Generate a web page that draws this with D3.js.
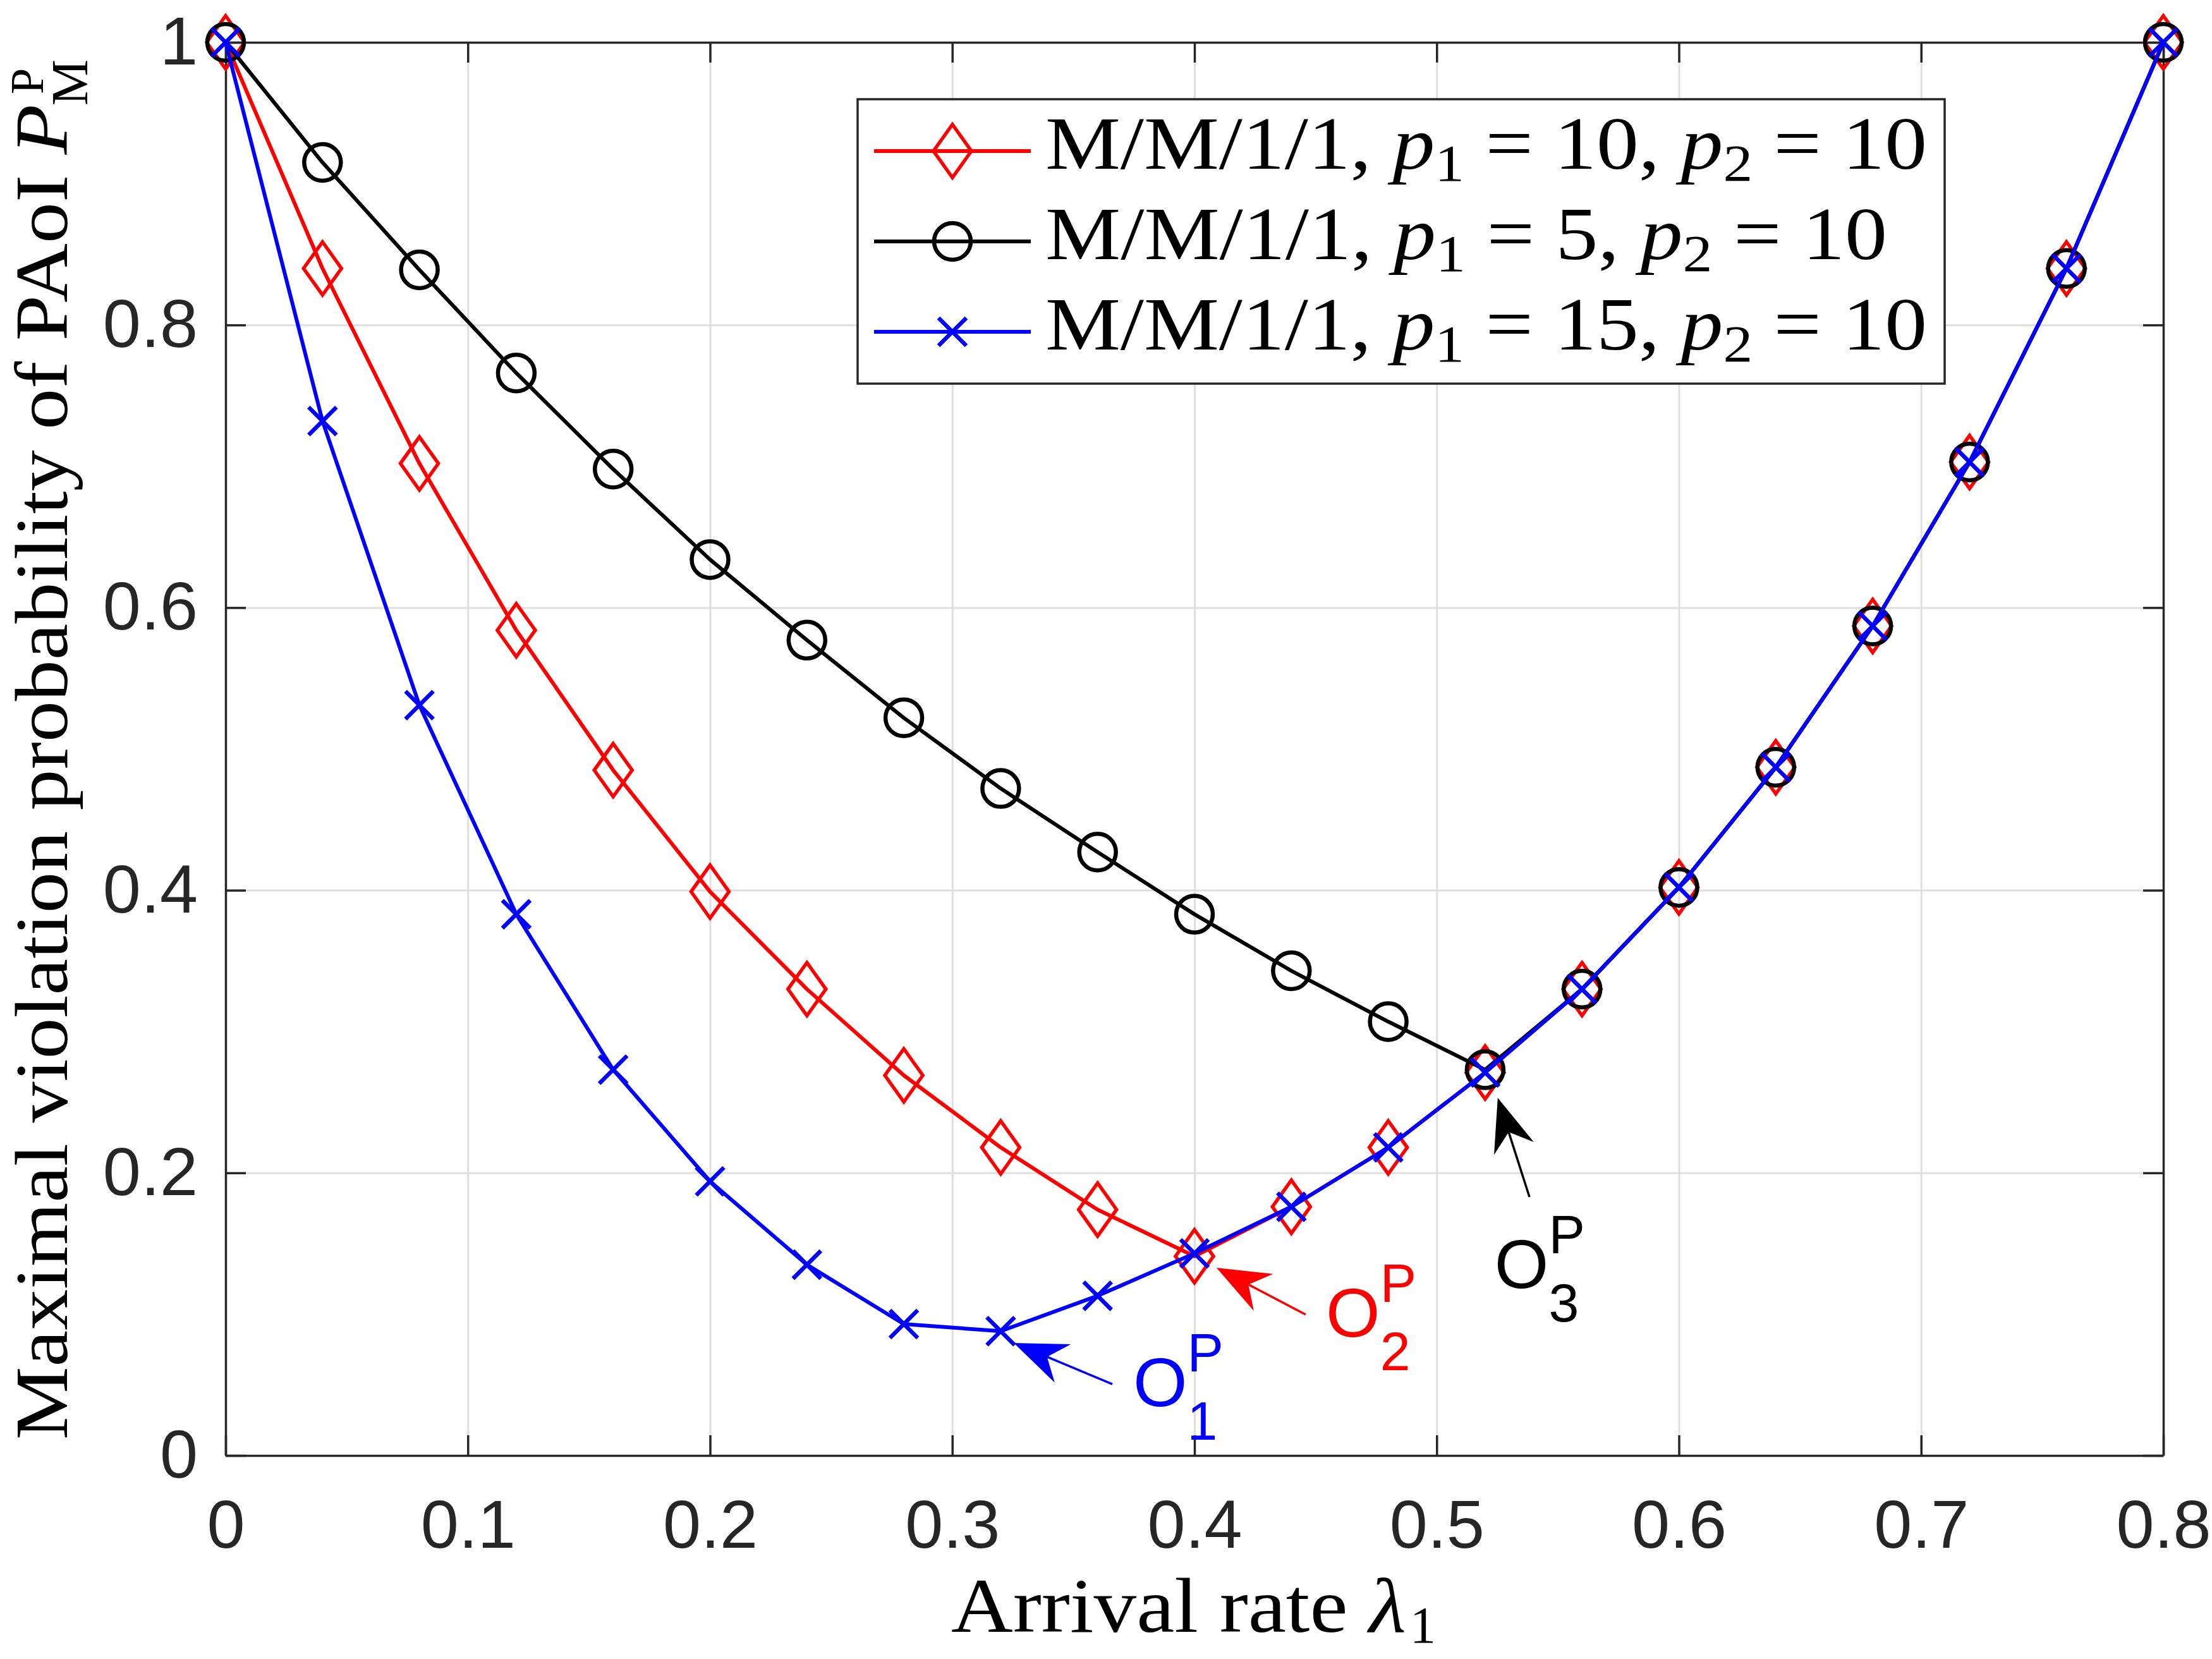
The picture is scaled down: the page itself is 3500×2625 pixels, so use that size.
<!DOCTYPE html>
<html><head><meta charset="utf-8">
<script src="https://cdn.jsdelivr.net/npm/d3@7"></script>
<style>body{margin:0;background:#fff}</style>
</head><body><svg id="c" width="3500" height="2625" xmlns="http://www.w3.org/2000/svg"></svg>
<script>
// ---------------- data ----------------
const lambdaVals = [0,0.04,0.08,0.12,0.16,0.20,0.24,0.28,0.32,0.36,0.40,0.44,0.48,0.52,0.56,0.60,0.64,0.68,0.72,0.76,0.80];
const pP10 = [1.000,0.840,0.702,0.584,0.485,0.399,0.330,0.269,0.218,0.174,0.141,0.176,0.218,0.271,0.330,0.402,0.487,0.587,0.703,0.840,1.000];
const pP5  = [1.000,0.915,0.839,0.766,0.698,0.634,0.577,0.522,0.472,0.427,0.383,0.343,0.307,0.273,0.330,0.402,0.487,0.587,0.703,0.840,1.000];
const pP15 = [1.000,0.732,0.531,0.383,0.273,0.194,0.135,0.093,0.088,0.113,0.143,0.176,0.218,0.271,0.330,0.402,0.487,0.587,0.703,0.840,1.000];
const xTicks = [0,0.1,0.2,0.3,0.4,0.5,0.6,0.7,0.8];
const yTicks = [0,0.2,0.4,0.6,0.8,1];
const xTickLabels = ["0","0.1","0.2","0.3","0.4","0.5","0.6","0.7","0.8"];
const yTickLabels = ["0","0.2","0.4","0.6","0.8","1"];
const legendP1 = ["10","5","15"];
const legendP2 = ["10","10","10"];
const seriesColors = ["#ff0000","#000000","#0000ff"];
const seriesMarkers = ["diamond","circle","cross"];
// annotation arrows: [tailX, tailY, tipX, tipY] in data units
const arrowTips = [[0.3661,0.0505,0.3254,0.0796],[0.4459,0.0997,0.4091,0.1328],[0.5383,0.1829,0.5252,0.2531]];
const optLabelPos = [[0.3747,0.0349],[0.4543,0.0841],[0.5239,0.1185]];
const optLabelSub = ["1","2","3"];

// ---------------- layout ----------------
const svg = d3.select('#c');
const L=357, R=3423, T=67, B=2303;
const x = d3.scaleLinear([0,0.8],[L,R]);
const y = d3.scaleLinear([0,1],[B,T]);
const AX='#262626';
const SANS="'Liberation Sans', Arial, Helvetica, sans-serif";
const SERIF="'Liberation Serif', 'Times New Roman', serif";

// grid
svg.append('g').attr('transform',`translate(0,${B})`)
  .call(d3.axisBottom(x).tickValues(xTicks.slice(1,-1)).tickSize(-(B-T)).tickFormat(''))
  .call(g=>{g.select('.domain').remove();g.selectAll('line').attr('stroke','#dfdfdf').attr('stroke-width',3);});
svg.append('g').attr('transform',`translate(${L},0)`)
  .call(d3.axisLeft(y).tickValues(yTicks.slice(1,-1)).tickSize(-(R-L)).tickFormat(''))
  .call(g=>{g.select('.domain').remove();g.selectAll('line').attr('stroke','#dfdfdf').attr('stroke-width',3);});

function styleAxis(g){
  g.select('.domain').attr('stroke',AX).attr('stroke-width',3.5);
  g.selectAll('.tick line').attr('stroke',AX).attr('stroke-width',3.5);
  g.selectAll('text').attr('font-family',SANS).attr('font-size',108).attr('fill',AX);
}
svg.append('g').attr('transform',`translate(0,${B})`)
  .call(d3.axisBottom(x).tickValues(xTicks).tickSizeInner(-32).tickSizeOuter(0).tickPadding(69).tickFormat((d,i)=>xTickLabels[i]))
  .call(styleAxis);
svg.append('g').attr('transform',`translate(0,${T})`)
  .call(d3.axisTop(x).tickValues(xTicks).tickSizeInner(-32).tickSizeOuter(0).tickFormat(''))
  .call(styleAxis);
svg.append('g').attr('transform',`translate(${L},0)`)
  .call(d3.axisLeft(y).tickValues(yTicks).tickSizeInner(-32).tickSizeOuter(0).tickPadding(44).tickFormat((d,i)=>yTickLabels[i]))
  .call(styleAxis);
svg.append('g').attr('transform',`translate(${R},0)`)
  .call(d3.axisRight(y).tickValues(yTicks).tickSizeInner(-32).tickSizeOuter(0).tickFormat(''))
  .call(styleAxis);

// ---------------- markers ----------------
function drawMarker(g, type, color, cx, cy){
  if(type==='diamond'){
    g.append('path').attr('d',`M${cx},${cy-42}L${cx+30},${cy}L${cx},${cy+42}L${cx-30},${cy}Z`)
      .attr('fill','none').attr('stroke',color).attr('stroke-width',5.5).attr('stroke-linejoin','miter');
  } else if(type==='circle'){
    g.append('circle').attr('cx',cx).attr('cy',cy).attr('r',29)
      .attr('fill','none').attr('stroke',color).attr('stroke-width',6.5);
  } else {
    const s=22;
    g.append('path').attr('d',`M${cx-s},${cy-s}L${cx+s},${cy+s}M${cx-s},${cy+s}L${cx+s},${cy-s}`)
      .attr('fill','none').attr('stroke',color).attr('stroke-width',6.5);
  }
}

const seriesVals=[pP10,pP5,pP15];
const line = d3.line().x(d=>x(d[0])).y(d=>y(d[1]));
seriesVals.forEach((vals,k)=>{
  const pts = lambdaVals.map((l,i)=>[l,vals[i]]);
  const g = svg.append('g');
  g.append('path').datum(pts).attr('d',line).attr('fill','none')
    .attr('stroke',seriesColors[k]).attr('stroke-width',6).attr('stroke-linejoin','round');
  pts.forEach(p=>drawMarker(g,seriesMarkers[k],seriesColors[k],x(p[0]),y(p[1])));
});

// ---------------- annotations ----------------
arrowTips.forEach((a,k)=>{
  const c = seriesColors[[2,0,1][k]];
  const tx=x(a[0]), ty=y(a[1]), hx=x(a[2]), hy=y(a[3]);
  const dx=hx-tx, dy=hy-ty, len=Math.hypot(dx,dy), ux=dx/len, uy=dy/len;
  const px=-uy, py=ux;
  const HL=84, NL=57, HW=33;
  svg.append('line').attr('x1',tx).attr('y1',ty).attr('x2',hx-ux*NL).attr('y2',hy-uy*NL)
    .attr('stroke',c).attr('stroke-width',3.5);
  const pts=[[hx,hy],[hx-ux*HL+px*HW,hy-uy*HL+py*HW],[hx-ux*NL,hy-uy*NL],[hx-ux*HL-px*HW,hy-uy*HL-py*HW]];
  svg.append('path').attr('d','M'+pts.map(p=>p.join(',')).join('L')+'Z').attr('fill',c);
  const lp=optLabelPos[k];
  const lx=x(lp[0]), ly=y(lp[1]);
  const o=svg.append('text').attr('x',lx).attr('y',ly).attr('font-family',SANS).attr('font-size',110).attr('fill',c).text('O');
  const ow=o.node().getComputedTextLength();
  svg.append('text').attr('x',lx+ow).attr('y',ly-55).attr('font-family',SANS).attr('font-size',86).attr('fill',c).text('P');
  svg.append('text').attr('x',lx+ow).attr('y',ly+53).attr('font-family',SANS).attr('font-size',86).attr('fill',c).text(optLabelSub[k]);
});

// ---------------- math text helper ----------------
function mathText(g, xx, yy, parts, fs, targetLen){
  const t=g.append('text').attr('x',xx).attr('y',yy).attr('font-family',SERIF).attr('font-size',fs).attr('fill','#000');
  let shifted=0;
  parts.forEach(p=>{
    const ts=t.append('tspan').text(p.t);
    let want = p.sub? Math.round(fs*0.16):0;
    if(want!==shifted){ts.attr('dy',want-shifted); shifted=want;}
    if(p.i) ts.attr('font-style','italic');
    if(p.sub) ts.attr('font-size',fs*0.7);
  });
  if(targetLen){t.attr('textLength',targetLen).attr('lengthAdjust','spacingAndGlyphs');}
  return t;
}

// ---------------- legend ----------------
const lg=svg.append('g');
lg.append('rect').attr('x',1357).attr('y',157).attr('width',1720).attr('height',450)
  .attr('fill','#fff').attr('stroke',AX).attr('stroke-width',3.5);
const rowY=[239,382,525];
const rowLen=[1395,1332,1395];
[0,1,2].forEach(k=>{
  const yy=rowY[k];
  lg.append('line').attr('x1',1383).attr('x2',1631).attr('y1',yy).attr('y2',yy)
    .attr('stroke',seriesColors[k]).attr('stroke-width',6);
  drawMarker(lg,seriesMarkers[k],seriesColors[k],1507,yy);
  mathText(lg,1654,yy+28,[
    {t:'M/M/1/1, '},{t:'p',i:true},{t:'1',sub:true},{t:' = '+legendP1[k]+', '},
    {t:'p',i:true},{t:'2',sub:true},{t:' = '+legendP2[k]}
  ],118,rowLen[k]);
});

// ---------------- axis labels ----------------
mathText(svg,1505,2582,[{t:'Arrival rate '},{t:'λ',i:true}],122,720);
svg.append('text').attr('x',2231).attr('y',2599).attr('font-family',SERIF).attr('font-size',82).attr('fill','#000').text('1');

const yl=svg.append('g').attr('transform','translate(106,1185) rotate(-90)');
mathText(yl,-1093,0,[{t:'Maximal violation probability of PAoI '},{t:'P',i:true}],118,2113);
yl.append('text').attr('x',1036).attr('y',-38).attr('font-family',SERIF).attr('font-size',74).attr('fill','#000').text('P');
yl.append('text').attr('x',1018).attr('y',32).attr('font-family',SERIF).attr('font-size',82).attr('fill','#000').text('M');
</script>
</body></html>
